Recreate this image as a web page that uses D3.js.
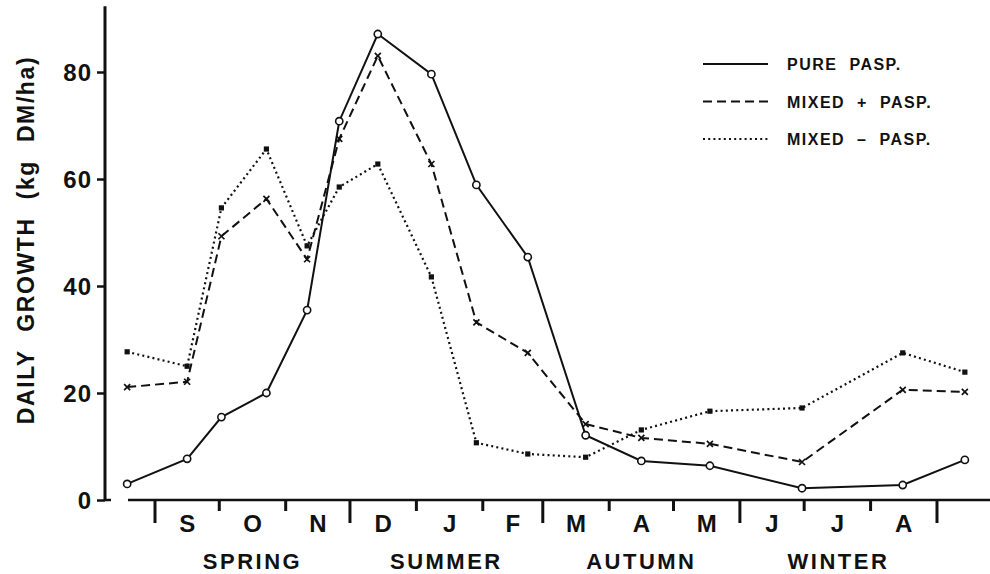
<!DOCTYPE html>
<html>
<head>
<meta charset="utf-8">
<script src="https://cdn.jsdelivr.net/npm/d3@7"></script>
<style>
  body { margin: 0; background: #fff; }
  svg { display: block; }
  text { font-family: "Liberation Sans", Arial, sans-serif; font-weight: bold; fill: #111; }
</style>
</head>
<body>
<svg width="990" height="574"></svg>
<script>
// sampling dates (same for the three swards)
var sampleDates = ["1977-08-19", "1977-09-16", "1977-10-02", "1977-10-23", "1977-11-11", "1977-11-26",
                   "1977-12-14", "1978-01-08", "1978-01-29", "1978-02-22", "1978-03-21", "1978-04-16",
                   "1978-05-18", "1978-06-30", "1978-08-16", "1978-09-14"];

// daily growth, kg DM/ha
var purePasp   = [3.0, 7.7, 15.5, 20.0, 35.5, 70.8, 87.1, 79.6, 58.9, 45.4, 12.1, 7.3, 6.4, 2.2, 2.8, 7.5];
var mixedPlus  = [21.1, 22.1, 49.3, 56.3, 45.0, 67.5, 83.0, 62.8, 33.2, 27.5, 14.2, 11.6, 10.5, 7.1, 20.6, 20.2];
var mixedMinus = [27.7, 25.0, 54.6, 65.6, 47.5, 58.5, 62.8, 41.7, 10.7, 8.6, 8.0, 13.1, 16.6, 17.2, 27.5, 23.9];

var seriesNames = ["PURE  PASP.", "MIXED  +  PASP.", "MIXED  \u2013  PASP."];

var yTicks = [0, 20, 40, 60, 80];
var monthStarts = ["1977-09-01", "1977-10-01", "1977-11-01", "1977-12-01", "1978-01-01", "1978-02-01",
                   "1978-03-01", "1978-04-01", "1978-05-01", "1978-06-01", "1978-07-01", "1978-08-01",
                   "1978-09-01"];
var monthLabels = ["S", "O", "N", "D", "J", "F", "M", "A", "M", "J", "J", "A"];
var seasons = ["SPRING", "SUMMER", "AUTUMN", "WINTER"];

var parse = d3.timeParse("%Y-%m-%d");
var dates = sampleDates.map(parse);
var starts = monthStarts.map(parse);

var svg = d3.select("svg");
var ink = "#111";

var x = d3.scaleTime()
    .domain([starts[0], starts[12]])
    .range([155, 937]);

var y = d3.scaleLinear()
    .domain([0, 80])
    .range([500, 72]);

// ---- y axis
var yAxis = d3.axisLeft(y)
    .tickValues(yTicks)
    .tickSize(8)
    .tickPadding(5);

var gy = svg.append("g")
    .attr("transform", "translate(105,0)")
    .call(yAxis);
gy.select(".domain").remove();
gy.selectAll(".tick line").attr("stroke", ink).attr("stroke-width", 2.5);
gy.selectAll(".tick text")
    .attr("fill", ink)
    .style("font-size", "24px")
    .style("letter-spacing", "1px")
    .attr("dy", "0.36em");

svg.append("line")
    .attr("x1", 105).attr("x2", 105)
    .attr("y1", y(92.3)).attr("y2", y(0))
    .attr("stroke", ink).attr("stroke-width", 3);
svg.append("line")
    .attr("x1", 105).attr("x2", 111)
    .attr("y1", y(0)).attr("y2", y(0))
    .attr("stroke", ink).attr("stroke-width", 2.5);

svg.append("text")
    .attr("transform", "translate(34,240) rotate(-90)")
    .attr("text-anchor", "middle")
    .style("font-size", "23px")
    .style("letter-spacing", "1.6px")
    .style("word-spacing", "10px")
    .text("DAILY GROWTH (kg DM/ha)");

// ---- x axis
svg.append("line")
    .attr("x1", 128).attr("x2", 990)
    .attr("y1", y(0)).attr("y2", y(0))
    .attr("stroke", ink).attr("stroke-width", 2.5);

svg.selectAll(".mtick")
    .data(starts)
    .enter()
    .append("line")
    .attr("class", "mtick")
    .attr("x1", function(d) { return x(d); })
    .attr("x2", function(d) { return x(d); })
    .attr("y1", y(0))
    .attr("y2", function(d, i) { return y(0) + (i % 3 === 0 ? 23 : 11); })
    .attr("stroke", ink)
    .attr("stroke-width", 3);

svg.selectAll(".mlabel")
    .data(monthLabels)
    .enter()
    .append("text")
    .attr("class", "mlabel")
    .attr("x", function(d, i) { return (x(starts[i]) + x(starts[i + 1])) / 2; })
    .attr("y", 532)
    .attr("text-anchor", "middle")
    .style("font-size", "24px")
    .text(function(d) { return d; });

svg.selectAll(".season")
    .data(seasons)
    .enter()
    .append("text")
    .attr("class", "season")
    .attr("x", function(d, i) { return (x(starts[i * 3]) + x(starts[i * 3 + 3])) / 2; })
    .attr("y", 569)
    .attr("text-anchor", "middle")
    .style("font-size", "22px")
    .style("letter-spacing", "2.5px")
    .text(function(d) { return d; });

// ---- series
var series = [
    { name: seriesNames[0], values: purePasp,   dash: null,    marker: "circle" },
    { name: seriesNames[1], values: mixedPlus,  dash: "9,5",   marker: "cross" },
    { name: seriesNames[2], values: mixedMinus, dash: "2,3.2", marker: "square" }
];

var line = d3.line()
    .x(function(d) { return x(d.date); })
    .y(function(d) { return y(d.v); });

function drawMarker(sel, type) {
    if (type === "circle") {
        sel.append("circle").attr("r", 3.6)
            .attr("fill", "#fff").attr("stroke", ink).attr("stroke-width", 1.6);
    } else if (type === "cross") {
        sel.append("path").attr("d", "M-3,-3L3,3M-3,3L3,-3")
            .attr("stroke", ink).attr("stroke-width", 1.7);
    } else {
        sel.append("rect").attr("x", -2.6).attr("y", -2.6)
            .attr("width", 5.2).attr("height", 5.2).attr("fill", ink);
    }
}

series.forEach(function(s) {
    var pts = s.values.map(function(v, i) { return { date: dates[i], v: v }; });
    svg.append("path")
        .datum(pts)
        .attr("d", line)
        .attr("fill", "none")
        .attr("stroke", ink)
        .attr("stroke-width", s.marker === "square" ? 2.2 : 2)
        .attr("stroke-dasharray", s.dash);

    svg.selectAll(null)
        .data(pts)
        .enter()
        .append("g")
        .attr("transform", function(d) { return "translate(" + x(d.date) + "," + y(d.v) + ")"; })
        .each(function() { drawMarker(d3.select(this), s.marker); });
});

// ---- legend
var legend = svg.selectAll(".legend")
    .data(series)
    .enter()
    .append("g")
    .attr("class", "legend")
    .attr("transform", function(d, i) { return "translate(703," + (64 + i * 37.5) + ")"; });

legend.append("line")
    .attr("x1", 0).attr("x2", 65)
    .attr("stroke", ink)
    .attr("stroke-width", 2)
    .attr("stroke-dasharray", function(d) { return d.dash; });

legend.append("text")
    .attr("x", 84)
    .attr("y", 6)
    .style("font-size", "16px")
    .style("letter-spacing", "1.5px")
    .style("word-spacing", "6px")
    .text(function(d) { return d.name; });
</script>
</body>
</html>
